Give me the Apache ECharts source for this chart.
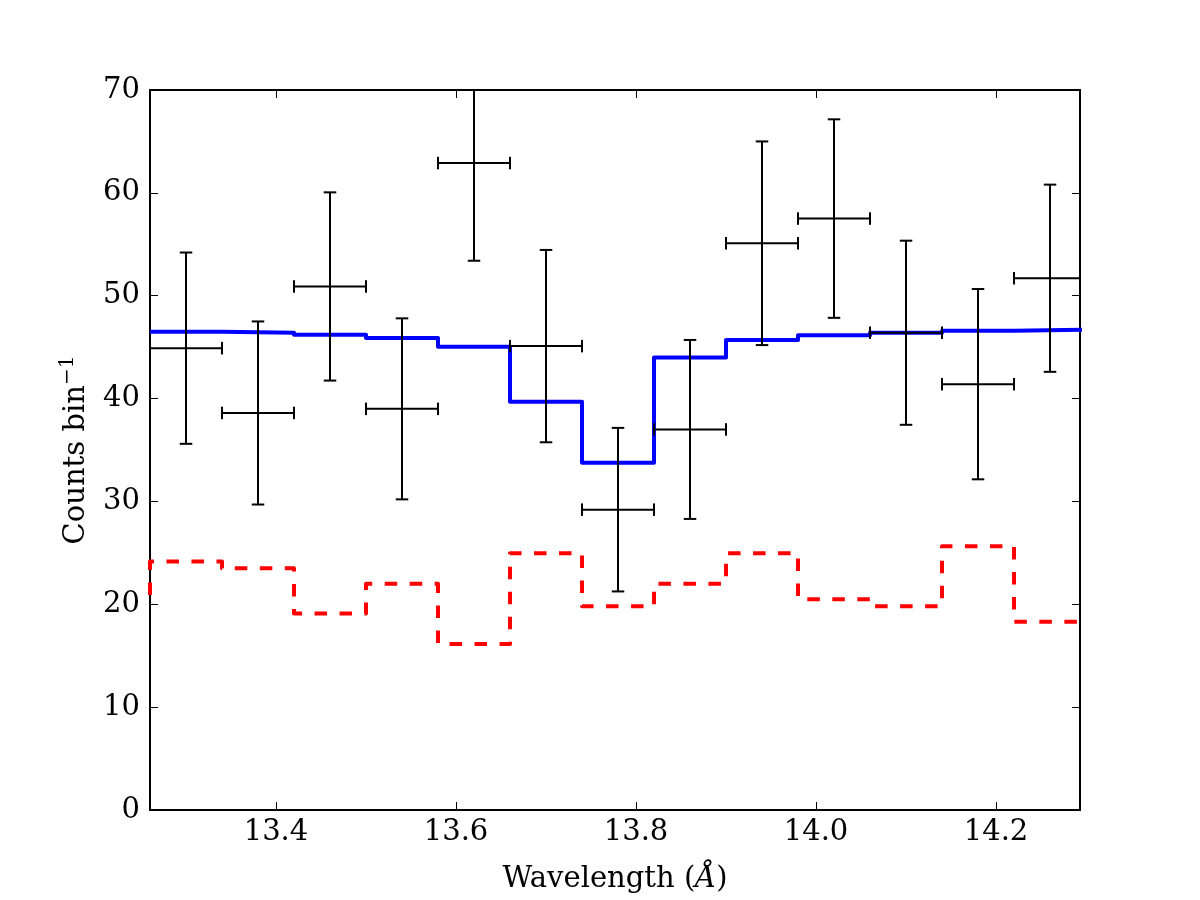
<!DOCTYPE html>
<html><head><meta charset="utf-8">
<script src="https://cdn.jsdelivr.net/npm/echarts@6/dist/echarts.min.js"></script>
<style>html,body{margin:0;padding:0;background:#fff}#c{width:1200px;height:900px}</style>
</head><body><div id="c"></div>
<script>
// ---- data ----
const binCenters = [13.30, 13.38, 13.46, 13.54, 13.62, 13.70, 13.78, 13.86, 13.94, 14.02, 14.10, 14.18, 14.26];
const binHalfWidth = [0.04, 0.04, 0.04, 0.04, 0.04, 0.04, 0.04, 0.04, 0.04, 0.04, 0.04, 0.04, 0.04];
const counts = [44.9, 38.6, 50.9, 39.0, 62.9, 45.1, 29.2, 37.0, 55.1, 57.5, 46.4, 41.4, 51.7];
const countErrors = [9.3, 8.9, 9.15, 8.8, 9.5, 9.35, 7.95, 8.7, 9.9, 9.65, 8.95, 9.25, 9.1];
const modelCounts = [46.5, 46.4, 46.2, 45.9, 45.05, 39.7, 33.75, 44.0, 45.7, 46.15, 46.4, 46.6, 46.7];
const backgroundCounts = [24.15, 23.5, 19.1, 22.0, 16.15, 24.95, 19.8, 22.0, 24.95, 20.5, 19.8, 25.65, 18.3];
const backgroundPrevBin = [13.22, 20.6]; // bin just left of the plotted range
const xTickValues = [13.4, 13.6, 13.8, 14.0, 14.2];
const xRange = [13.26, 14.2933];
const yRange = [0, 70];

// ---- helpers ----
function stepPoints(centers, halfW, values) {
  const pts = centers.map((c, i) => [c - halfW[i], values[i]]);
  const n = centers.length - 1;
  pts.push([centers[n] + halfW[n], values[n]]);
  return pts;
}
const modelStep = stepPoints(binCenters, binHalfWidth, modelCounts);
const bgStep = [[backgroundPrevBin[0] - binHalfWidth[0], backgroundPrevBin[1]]]
  .concat(stepPoints(binCenters, binHalfWidth, backgroundCounts));
const errData = binCenters.map((c, i) => [c, counts[i], countErrors[i], binHalfWidth[i]]);

const FONT = 'DejaVu Serif';
const FS = 29;
const axisLineStyle = { color: '#000', width: 2 };
const tickStyle = { show: true, inside: true, length: 8, lineStyle: { color: '#000', width: 1 } };

function xAxisDef(pos, showLabels) {
  const a = {
    type: 'value', min: xRange[0], max: xRange[1], position: pos,
    axisLine: { show: true, onZero: false, lineStyle: axisLineStyle },
    axisTick: Object.assign({ customValues: xTickValues }, tickStyle),
    axisLabel: { show: showLabels, customValues: xTickValues, formatter: v => v.toFixed(1),
      fontFamily: FONT, fontSize: FS, color: '#000', margin: 8 },
    splitLine: { show: false }
  };
  if (showLabels) {
    a.name = '{n|Wavelength (}{i|Å}{n|)}';
    a.nameLocation = 'middle';
    a.nameGap = 55;
    a.nameTextStyle = { fontFamily: FONT, fontSize: FS, color: '#000',
      rich: { n: { fontFamily: FONT, fontSize: FS, color: '#000' },
              i: { fontFamily: FONT, fontSize: FS, color: '#000', fontStyle: 'italic' } } };
  }
  return a;
}
function yAxisDef(pos, showLabels) {
  const a = {
    type: 'value', min: yRange[0], max: yRange[1], interval: 10, position: pos,
    axisLine: { show: true, onZero: false, lineStyle: axisLineStyle },
    axisTick: tickStyle,
    axisLabel: { show: showLabels, fontFamily: FONT, fontSize: FS, color: '#000', margin: 10 },
    splitLine: { show: false }
  };
  if (showLabels) {
    a.name = '{n|Counts bin}{s|−1}';
    a.nameLocation = 'middle';
    a.nameGap = 56;
    a.nameTextStyle = { fontFamily: FONT, fontSize: FS, color: '#000',
      rich: { n: { fontFamily: FONT, fontSize: FS, color: '#000', lineHeight: 36 },
              s: { fontFamily: FONT, fontSize: 20, color: '#000', verticalAlign: 'top', lineHeight: 20 } } };
  }
  return a;
}

const chart = echarts.init(document.getElementById('c'), null, { renderer: 'canvas' });
chart.setOption({
  animation: false,
  backgroundColor: '#fff',
  grid: { left: 150, right: 120, top: 90, bottom: 90, containLabel: false },
  xAxis: [xAxisDef('bottom', true), xAxisDef('top', false)],
  yAxis: [yAxisDef('left', true), yAxisDef('right', false)],
  series: [
    { type: 'line', xAxisIndex: 0, yAxisIndex: 0, data: bgStep, step: 'end', showSymbol: false,
      symbol: 'none', clip: true, z: 2,
      lineStyle: { color: '#ff0000', width: 4, type: [12.5, 12.5], cap: 'butt', join: 'round' } },
    { type: 'line', xAxisIndex: 0, yAxisIndex: 0, data: modelStep, step: 'end', showSymbol: false,
      symbol: 'none', clip: true, z: 3,
      lineStyle: { color: '#0000ff', width: 4, join: 'round' } },
    { type: 'custom', xAxisIndex: 0, yAxisIndex: 0, data: errData, z: 4, clip: true,
      renderItem: function (params, api) {
        const cs = params.coordSys;
        const left = cs.x, right = cs.x + cs.width, top = cs.y, bottom = cs.y + cs.height;
        const c = api.value(0), y = api.value(1), e = api.value(2), hw = api.value(3);
        const pC = api.coord([c, y]);
        const pT = api.coord([c, y + e]);
        const pB = api.coord([c, y - e]);
        const pL = api.coord([c - hw, y]);
        const pR = api.coord([c + hw, y]);
        const cap = 6.25;
        const st = { stroke: '#000', lineWidth: 2, fill: null };
        const ch = [];
        const clampY = v => Math.max(top, Math.min(bottom, v));
        const clampX = v => Math.max(left, Math.min(right, v));
        ch.push({ type: 'line', shape: { x1: pC[0], y1: clampY(pT[1]), x2: pC[0], y2: clampY(pB[1]) }, style: st });
        ch.push({ type: 'line', shape: { x1: clampX(pL[0]), y1: pC[1], x2: clampX(pR[0]), y2: pC[1] }, style: st });
        if (pT[1] >= top - 0.5) ch.push({ type: 'line', shape: { x1: pC[0] - cap, y1: pT[1], x2: pC[0] + cap, y2: pT[1] }, style: st });
        if (pB[1] <= bottom + 0.5) ch.push({ type: 'line', shape: { x1: pC[0] - cap, y1: pB[1], x2: pC[0] + cap, y2: pB[1] }, style: st });
        if (pL[0] >= left - 0.5) ch.push({ type: 'line', shape: { x1: pL[0], y1: pC[1] - cap, x2: pL[0], y2: pC[1] + cap }, style: st });
        if (pR[0] <= right + 0.5) ch.push({ type: 'line', shape: { x1: pR[0], y1: pC[1] - cap, x2: pR[0], y2: pC[1] + cap }, style: st });
        return { type: 'group', children: ch };
      } }
  ]
});
</script>
</body></html>
